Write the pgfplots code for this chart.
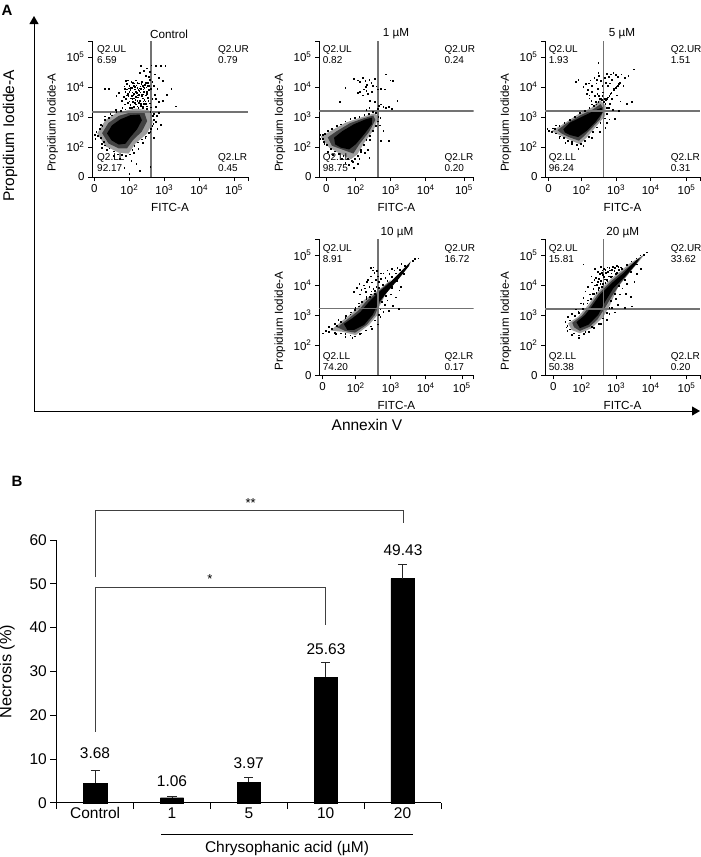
\documentclass[border=0pt]{standalone}
\usepackage{pgfplots}
\pgfplotsset{compat=1.18}
\usepackage{fontspec}
\setmainfont{Liberation Sans}
\usetikzlibrary{arrows.meta}

\newcommand{\fs}[1]{\fontsize{#1}{#1}\selectfont}

\pgfplotsset{
  panel/.style={
    scale only axis, anchor=south west, width=#1,
    height=136pt,
    ymin=1, ymax=5.53, axis x line=bottom, axis y line=left,
    axis line style={-, line width=0.7pt},
    tick style={black, line width=0.6pt},
    tick align=outside, major tick length=4pt,
    ytick={1,2,3,4,5}, yticklabels={0,10\textsuperscript{2},10\textsuperscript{3},10\textsuperscript{4},10\textsuperscript{5}},
    ticklabel style={font=\fs{11.5}},
    extra y ticks={5.53}, extra y tick labels={},
    xlabel={FITC-A}, ylabel={Propidium Iodide-A},
    xlabel style={font=\fs{11.7}, at={(axis description cs:0.5,0)}, anchor=center, yshift=-30pt},
    ylabel style={font=\fs{11.6}, at={(axis description cs:-0.253,0.4)}, anchor=center},
    clip=true,
  },
  halo/.style={draw=none, fill=black!38, forget plot},
  mid/.style={draw=none, fill=black!74, forget plot},
  core/.style={draw=none, fill=black, forget plot},
  dots/.style={only marks, mark=square*, mark size=0.32pt, mark options={draw=none, fill=black!48}, forget plot},
  edge/.style={only marks, mark=square*, mark size=0.36pt, mark options={draw=none, fill=black!62}, forget plot},
  quad/.style={no marks, draw=black!55, line width=1.4pt, forget plot},
}

\begin{document}
\begin{tikzpicture}
\path[use as bounding box] (0,0) rectangle (701pt,-857pt);

% ---- panel A, control
\begin{axis}[panel=156pt, at={(92pt,-177pt)}, xmin=0.93, xmax=5.40,
  xtick={1,2,3,4,5}, xticklabels={0,10\textsuperscript{2},10\textsuperscript{3},10\textsuperscript{4},10\textsuperscript{5}},
  extra x ticks={5.40}, extra x tick labels={}]
\addplot[halo] coordinates {(1.08,2.45)(1.31,2.89)(1.65,3.15)(2.17,3.28)(2.57,3.22)(2.67,2.83)(2.51,2.45)(2.17,2.11)(1.98,1.78)(1.70,1.81)(1.31,2.03)} --cycle;
\addplot[mid] coordinates {(1.22,2.46)(1.40,2.80)(1.70,3.04)(2.10,3.17)(2.43,3.15)(2.51,2.86)(2.36,2.52)(2.10,2.22)(1.93,1.95)(1.70,1.95)(1.40,2.12)} --cycle;
\addplot[core] coordinates {(1.36,2.45)(1.50,2.72)(1.74,2.92)(2.03,3.06)(2.29,3.08)(2.36,2.89)(2.22,2.59)(2.03,2.33)(1.89,2.11)(1.70,2.08)(1.49,2.22)} --cycle;
\addplot[edge] coordinates {(1.05,2.50)(1.10,2.38)(1.15,2.62)(1.22,2.72)(1.18,2.30)(1.26,2.18)(1.30,2.90)(1.40,2.98)(1.50,3.06)(1.62,3.18)(1.75,3.22)(1.88,3.26)(2.00,3.30)(2.12,3.34)(2.25,3.30)(2.38,3.33)(2.50,3.28)(2.60,3.18)(2.66,3.05)(2.70,2.92)(2.68,2.78)(2.62,2.62)(2.55,2.48)(2.46,2.36)(2.36,2.26)(2.24,2.16)(2.14,2.04)(2.08,1.90)(2.00,1.76)(1.90,1.70)(1.78,1.74)(1.66,1.76)(1.55,1.86)(1.42,1.96)(1.30,2.06)(1.20,2.12)};
\addplot[dots] coordinates {(1.85,4.02)(1.92,4.10)(1.98,3.96)(2.05,4.18)(2.12,4.05)(2.18,4.22)(2.22,3.98)(2.27,4.12)(2.31,4.03)(2.36,4.17)(2.40,3.92)(2.44,4.08)(2.48,3.99)(2.53,4.14)(1.88,3.85)(1.95,3.78)(2.02,3.90)(2.08,3.82)(2.15,3.92)(2.21,3.80)(2.28,3.88)(2.34,3.76)(2.41,3.84)(2.47,3.72)(2.55,3.90)(1.83,3.68)(1.90,3.60)(1.97,3.70)(2.04,3.62)(2.11,3.72)(2.17,3.58)(2.24,3.66)(2.30,3.55)(2.38,3.62)(2.45,3.52)(2.52,3.64)(1.95,3.47)(2.02,3.40)(2.10,3.50)(2.18,3.42)(2.26,3.48)(2.33,3.38)(2.42,3.44)(2.50,3.36)(2.58,3.46)(1.70,3.80)(1.62,3.70)(1.78,3.55)
(1.92,3.92)(2.00,4.05)(2.07,3.98)(2.14,4.13)(2.20,4.06)(2.25,3.90)(2.33,3.95)(2.38,4.05)(2.43,3.97)(2.50,3.85)(2.13,3.78)(2.19,3.68)(2.27,3.75)(2.36,3.70)(2.43,3.58)(1.87,3.42)(1.80,3.30)(2.06,3.30)(2.23,3.36)(2.38,3.30)(2.48,3.28)
(1.90,4.20)(1.86,3.94)(1.96,4.22)(2.03,3.97)(2.09,4.14)(2.16,4.00)(2.23,4.14)(2.29,3.96)(2.34,4.10)(2.40,3.99)(2.46,4.14)(2.51,4.04)(1.93,3.72)(2.00,3.84)(2.06,3.70)(2.12,3.62)(2.18,3.85)(2.24,3.73)(2.31,3.82)(2.39,3.76)(2.49,3.78)(2.00,3.52)(2.08,3.60)(2.15,3.48)(2.22,3.54)(2.32,3.44)(2.40,3.52)(2.47,3.44)(2.54,3.54)(2.56,4.05)
(2.33,4.70)(2.30,4.48)(2.42,4.55)(2.50,4.62)(2.58,4.50)(2.63,4.72)(2.75,4.70)(2.90,4.70)(3.03,4.70)(2.72,4.42)(2.85,4.30)(2.95,4.20)(3.20,3.95)(3.07,3.75)(2.70,4.05)(2.80,3.95)(2.72,3.75)(2.65,3.60)(2.75,3.35)(2.85,3.50)(1.30,3.95)(1.40,3.95)(2.95,3.55)(3.33,3.36)(2.62,3.95)(2.58,4.25)(2.66,4.18)(2.56,4.35)(2.46,4.38)(2.76,3.60)(2.62,3.32)
(2.05,1.55)(2.20,1.45)(1.85,1.30)(2.00,1.12)(2.30,1.20)(2.60,1.35)(2.70,2.30)(2.80,2.60)(2.90,2.75)(2.75,2.85)(2.65,2.70)(2.60,2.50)(2.78,3.05)(2.85,3.15)(2.70,3.10)(2.45,2.30)(2.38,2.15)(2.25,1.95)(2.12,1.80)(1.72,1.62)(1.55,1.72)(1.35,1.90)(1.20,1.98)(1.02,2.28)(1.00,2.40)(1.18,2.75)(1.30,3.02)(1.45,3.10)(1.60,3.25)};
\addplot[quad] coordinates {(2.62,1)(2.62,5.53)};
\addplot[quad] coordinates {(0.93,3.16)(5.40,3.16)};
\end{axis}

% ---- panel A, 1 uM
\begin{axis}[panel=154.7pt, at={(319pt,-177pt)}, xmin=0.95, xmax=5.37,
  xtick={1.16,2,3,4,5.09}, xticklabels={0,10\textsuperscript{2},10\textsuperscript{3},10\textsuperscript{4},10\textsuperscript{5}},
  extra x ticks={5.37}, extra x tick labels={}]
\addplot[halo] coordinates {(1.00,2.34)(1.28,2.53)(1.71,2.81)(2.14,2.98)(2.52,3.12)(2.66,3.03)(2.52,2.59)(2.24,2.14)(2.05,1.76)(1.86,1.59)(1.57,1.76)(1.24,1.98)} --cycle;
\addplot[mid] coordinates {(1.20,2.32)(1.46,2.53)(1.83,2.79)(2.21,2.95)(2.50,3.05)(2.56,2.90)(2.38,2.50)(2.12,2.12)(1.93,1.78)(1.72,1.87)(1.32,2.04)} --cycle;
\addplot[core] coordinates {(1.38,2.31)(1.62,2.53)(1.95,2.76)(2.28,2.92)(2.47,2.98)(2.46,2.76)(2.24,2.42)(2.00,2.09)(1.81,1.92)(1.57,1.98)(1.41,2.09)} --cycle;
\addplot[edge] coordinates {(0.98,2.40)(1.06,2.28)(1.12,2.45)(1.20,2.55)(1.32,2.60)(1.45,2.70)(1.58,2.76)(1.70,2.86)(1.84,2.94)(1.98,2.98)(2.10,3.02)(2.24,3.08)(2.36,3.12)(2.48,3.18)(2.58,3.14)(2.64,3.02)(2.62,2.86)(2.58,2.70)(2.48,2.54)(2.40,2.38)(2.30,2.24)(2.22,2.08)(2.14,1.90)(2.06,1.72)(1.98,1.60)(1.88,1.54)(1.76,1.62)(1.64,1.70)(1.52,1.78)(1.40,1.86)(1.28,1.94)(1.16,2.08)(1.08,2.18)};
\addplot[dots] coordinates {(1.95,4.28)(2.05,4.22)(2.12,4.18)(2.20,4.30)(2.27,4.20)(2.32,4.08)(2.28,4.00)(2.38,4.25)(2.44,4.14)(2.48,4.04)(2.55,4.28)(2.30,3.88)(2.22,3.92)(2.12,3.85)(2.05,3.80)(2.20,3.72)(2.35,3.78)(2.45,3.85)(2.58,4.02)(2.62,3.92)(2.72,3.95)(2.82,3.93)(2.98,4.22)(3.05,4.20)(2.86,4.42)(1.70,3.98)(2.40,3.55)(2.55,3.50)(2.72,3.42)(2.78,3.35)(2.85,3.30)(2.95,3.35)(3.02,3.28)(3.18,3.55)(2.62,3.28)(2.66,3.38)(1.55,3.50)(2.30,3.25)(2.38,3.30)
(2.70,2.98)(2.68,2.72)(2.78,2.55)(2.72,2.20)(2.95,2.20)(2.40,2.25)(2.25,1.80)(2.35,1.90)(2.10,1.62)(1.95,1.30)(2.05,1.45)(2.38,1.65)(1.05,2.40)(0.98,2.28)(1.10,2.10)(1.20,1.85)(1.35,1.75)(1.80,1.40)(1.60,1.60)(1.70,1.48)(1.92,1.50)(2.14,1.85)};
\addplot[quad] coordinates {(2.63,1)(2.63,5.53)};
\addplot[quad] coordinates {(0.95,3.20)(5.37,3.20)};
\end{axis}

% ---- panel A, 5 uM
\begin{axis}[panel=155pt, at={(545pt,-177pt)}, xmin=0.94, xmax=5.43,
  xtick={1.04,2,3,4,5.04}, xticklabels={0,10\textsuperscript{2},10\textsuperscript{3},10\textsuperscript{4},10\textsuperscript{5}},
  extra x ticks={5.43}, extra x tick labels={}]
\addplot[halo] coordinates {(1.13,2.53)(1.42,2.73)(1.90,3.09)(2.29,3.31)(2.53,3.56)(2.70,3.37)(2.68,3.03)(2.43,2.70)(2.19,2.37)(1.95,2.09)(1.61,2.26)(1.32,2.42)} --cycle;
\addplot[mid] coordinates {(1.30,2.56)(1.54,2.77)(1.97,3.06)(2.34,3.26)(2.55,3.43)(2.65,3.25)(2.53,2.92)(2.28,2.61)(2.04,2.33)(1.92,2.21)(1.63,2.33)(1.42,2.45)} --cycle;
\addplot[core] coordinates {(1.47,2.59)(1.66,2.81)(2.05,3.03)(2.39,3.22)(2.58,3.31)(2.60,3.14)(2.39,2.81)(2.14,2.53)(1.90,2.33)(1.66,2.40)(1.52,2.48)} --cycle;
\addplot[edge] coordinates {(1.05,2.55)(1.14,2.50)(1.22,2.62)(1.35,2.70)(1.50,2.82)(1.65,2.92)(1.80,3.02)(1.95,3.14)(2.10,3.20)(2.22,3.30)(2.36,3.38)(2.48,3.52)(2.58,3.58)(2.68,3.44)(2.72,3.30)(2.72,3.10)(2.66,2.96)(2.54,2.80)(2.44,2.66)(2.32,2.50)(2.20,2.34)(2.10,2.22)(1.98,2.12)(1.85,2.08)(1.72,2.18)(1.60,2.22)(1.48,2.30)(1.36,2.36)(1.24,2.46)
(2.65,3.50)(2.70,3.58)(2.75,3.66)(2.80,3.72)(2.86,3.82)(2.92,3.90)(2.98,3.98)(3.04,4.05)(3.10,4.14)(3.08,4.10)(3.01,4.02)(2.94,3.94)(2.83,3.78)(2.72,3.62)};
\addplot[dots] coordinates {(2.66,3.60)(2.60,3.70)(2.62,3.82)(2.56,3.62)
(2.05,4.00)(2.12,4.10)(2.18,3.90)(2.25,4.22)(2.30,4.05)(2.36,4.30)(2.42,4.12)(2.46,3.95)(2.50,4.38)(2.55,4.20)(2.60,4.05)(2.66,4.30)(2.72,4.45)(2.78,4.35)(2.84,4.42)(2.88,4.25)(2.92,4.48)(2.14,3.78)(2.22,3.72)(2.30,3.85)(2.38,3.70)(2.45,3.78)(2.52,3.60)(2.28,3.55)(2.40,3.50)(2.22,3.62)(2.70,4.15)(2.76,4.05)(2.82,4.12)(2.48,4.48)(2.44,4.25)(2.20,4.12)(1.82,4.18)(1.90,4.25)
(2.48,4.81)(3.50,4.59)(3.35,4.37)(3.15,4.42)(3.25,4.30)(3.05,4.35)(2.98,4.40)(3.20,4.05)(3.02,3.72)(3.30,3.45)(3.12,3.52)(2.88,3.60)(2.82,3.45)(2.78,3.30)(2.90,3.25)(3.45,3.50)(2.95,2.95)(2.80,2.92)(2.72,2.80)(2.68,2.65)(3.08,3.20)
(1.05,2.55)(1.00,2.60)(1.16,2.62)(1.25,2.72)(1.35,2.30)(1.52,2.14)(1.72,2.10)(1.90,1.95)(2.05,2.05)(2.30,2.30)(2.52,2.50)(2.50,3.70)(2.42,3.42)(2.30,3.42)};
\addplot[quad] coordinates {(2.63,1)(2.63,5.53)};
\addplot[quad] coordinates {(0.94,3.20)(5.43,3.20)};
\end{axis}

% ---- panel A, 10 uM
\begin{axis}[panel=154.7pt, at={(319pt,-375.3pt)}, xmin=0.95, xmax=5.37,
  xtick={1.05,2,3,4,5.03}, xticklabels={0,10\textsuperscript{2},10\textsuperscript{3},10\textsuperscript{4},10\textsuperscript{5}},
  extra x ticks={5.37}, extra x tick labels={}]
\addplot[halo] coordinates {(1.28,2.49)(1.62,2.82)(2.00,3.18)(2.24,3.51)(2.65,3.84)(3.00,4.18)(2.90,3.80)(2.67,3.29)(2.62,3.01)(2.38,2.68)(2.00,2.34)(1.62,2.45)} --cycle;
\addplot[mid] coordinates {(1.47,2.60)(1.76,2.86)(2.07,3.15)(2.31,3.48)(2.63,3.78)(2.95,4.10)(2.93,3.88)(2.67,3.37)(2.55,3.01)(2.31,2.68)(1.98,2.42)(1.69,2.48)} --cycle;
\addplot[core] coordinates {(1.66,2.71)(1.90,2.90)(2.14,3.12)(2.38,3.45)(2.62,3.73)(2.90,4.01)(3.24,4.40)(3.52,4.73)(3.57,4.79)(3.52,4.64)(3.24,4.23)(2.95,3.84)(2.67,3.45)(2.48,3.01)(2.24,2.68)(1.95,2.51)(1.76,2.51)} --cycle;
\addplot[edge] coordinates {(1.22,2.45)(1.32,2.56)(1.45,2.66)(1.58,2.78)(1.70,2.92)(1.84,3.04)(1.96,3.18)(2.08,3.30)(2.18,3.46)(2.30,3.62)(2.42,3.70)(2.54,3.82)(2.66,3.92)(2.78,4.02)(2.90,4.14)(3.02,4.28)(3.14,4.40)(3.26,4.52)(3.40,4.66)(3.36,4.38)(3.16,4.14)(3.02,3.92)(2.86,3.66)(2.74,3.44)(2.70,3.20)(2.66,3.02)(2.54,2.84)(2.42,2.64)(2.28,2.50)(2.12,2.38)(1.98,2.30)(1.84,2.34)(1.70,2.38)(1.56,2.40)(1.40,2.42)};
\addplot[dots] coordinates {(1.95,3.78)(2.02,3.92)(2.10,4.05)(2.16,3.85)(2.22,4.00)(2.28,3.78)(2.32,4.12)(2.38,3.95)(2.42,4.30)(2.46,4.10)(2.50,3.88)(2.53,4.42)(2.57,4.18)(2.62,4.30)(2.66,4.12)(2.72,4.22)(2.78,4.40)(2.84,4.25)(2.90,4.50)(2.96,4.38)(3.02,4.55)(3.10,4.50)(2.48,4.50)(2.35,4.18)(2.25,3.90)(2.12,3.70)(2.55,3.72)(2.40,3.62)(2.30,3.55)(2.08,3.40)(1.98,3.25)(2.72,4.40)(2.60,4.48)(2.42,4.58)(2.50,4.60)(2.58,3.95)(2.44,3.80)(3.30,4.72)(3.18,4.58)
(3.24,3.84)(3.00,3.70)(2.90,3.50)(3.05,3.32)(3.22,3.22)(2.95,3.15)(2.78,3.12)(2.82,3.35)(3.15,3.60)(3.02,3.95)(3.28,3.95)(2.70,2.95)(2.62,2.70)(2.45,2.55)
(1.05,2.40)(1.15,2.48)(1.22,2.62)(1.40,2.72)(1.50,2.85)(1.72,2.98)(1.85,3.10)(1.42,2.38)(1.70,2.28)(1.90,2.25)(2.15,2.40)(3.68,4.88)(3.78,4.90)(3.62,4.82)};
\addplot[quad] coordinates {(2.63,1)(2.63,5.53)};
\addplot[quad] coordinates {(0.95,3.23)(5.37,3.23)};
\end{axis}

% ---- panel A, 20 uM
\begin{axis}[panel=155pt, at={(545pt,-375.3pt)}, xmin=0.94, xmax=5.43,
  xtick={1.18,2,3,4,5.04}, xticklabels={0,10\textsuperscript{2},10\textsuperscript{3},10\textsuperscript{4},10\textsuperscript{5}},
  extra x ticks={5.43}, extra x tick labels={}]
\addplot[halo] coordinates {(1.61,2.73)(1.90,2.95)(2.19,3.34)(2.43,3.73)(2.87,4.23)(3.40,4.73)(3.83,5.03)(3.50,4.57)(3.06,3.95)(2.82,3.34)(2.63,2.95)(2.29,2.57)(1.95,2.40)(1.71,2.51)} --cycle;
\addplot[mid] coordinates {(1.73,2.75)(2.00,2.98)(2.24,3.31)(2.48,3.70)(2.87,4.15)(3.30,4.56)(3.76,4.98)(3.53,4.63)(3.16,4.12)(2.87,3.62)(2.65,3.20)(2.46,2.86)(2.24,2.62)(1.95,2.48)(1.78,2.60)} --cycle;
\addplot[core] coordinates {(1.85,2.77)(2.10,3.01)(2.29,3.29)(2.53,3.68)(2.87,4.07)(3.21,4.40)(3.54,4.79)(3.69,4.92)(3.57,4.70)(3.26,4.29)(2.92,3.90)(2.68,3.45)(2.48,3.01)(2.19,2.68)(1.95,2.57)} --cycle;
\addplot[edge] coordinates {(1.58,2.66)(1.66,2.84)(1.80,2.98)(1.92,3.08)(2.04,3.22)(2.16,3.40)(2.26,3.56)(2.36,3.72)(2.50,3.92)(2.62,4.04)(2.74,4.16)(2.88,4.30)(3.02,4.42)(3.16,4.56)(3.30,4.68)(3.44,4.80)(3.58,4.90)(3.70,5.00)(3.60,4.70)(3.42,4.44)(3.24,4.18)(3.08,3.98)(2.96,3.72)(2.84,3.48)(2.80,3.26)(2.72,3.08)(2.62,2.90)(2.50,2.72)(2.36,2.58)(2.20,2.46)(2.06,2.38)(1.92,2.34)(1.78,2.40)(1.66,2.54)};
\addplot[dots] coordinates {(2.10,3.80)(2.18,3.95)(2.24,3.70)(2.30,4.10)(2.34,3.88)(2.40,4.25)(2.44,4.02)(2.48,3.85)(2.52,4.38)(2.55,4.15)(2.58,3.95)(2.60,4.50)(2.64,4.28)(2.68,4.08)(2.70,4.42)(2.74,4.60)(2.78,4.30)(2.82,4.50)(2.86,4.40)(2.90,4.62)(2.94,4.48)(2.98,4.38)(3.02,4.66)(3.08,4.52)(3.14,4.60)(2.46,4.45)(2.38,4.00)(2.32,3.72)(2.26,3.55)(2.18,3.50)(2.56,4.62)(2.62,4.36)(2.72,4.18)(2.50,4.22)(2.42,3.75)(2.64,4.56)(2.76,4.45)(2.84,4.28)(2.88,4.52)(2.96,4.58)(3.06,4.62)(2.66,4.20)(2.54,4.05)(2.46,4.12)(2.36,4.18)(2.05,3.58)(1.98,3.40)(2.28,4.30)(2.38,4.55)(2.05,4.70)(2.80,4.58)(2.58,4.42)(2.68,4.52)
(3.30,4.05)(3.18,3.90)(3.10,3.70)(2.98,3.55)(3.05,3.35)(3.25,3.25)(3.45,3.30)(2.88,3.25)(2.80,3.05)(2.72,2.85)(2.96,3.10)(3.42,3.62)(3.28,3.72)(3.52,4.12)(3.60,4.38)(3.72,4.55)
(1.52,2.78)(1.60,2.95)(1.72,3.05)(1.82,3.20)(1.58,2.48)(1.72,2.35)(1.92,2.25)(2.10,2.45)(2.30,2.62)(2.55,2.72)(1.90,3.12)(2.05,3.38)(1.55,2.60)(3.88,5.10)(3.80,5.02)};
\addplot[quad] coordinates {(2.64,1)(2.64,5.53)};
\addplot[quad] coordinates {(0.94,3.21)(5.43,3.21)};
\end{axis}

% ---- panel B
\begin{axis}[scale only axis, anchor=south west, at={(56.7pt,-802.7pt)}, width=384.3pt, height=262.7pt,
  xmin=0, xmax=5, ymin=0, ymax=60, axis x line=bottom, axis y line=left,
  axis line style={-, line width=0.7pt}, tick style={black, line width=0.7pt},
  tick align=outside, major tick length=6.3pt,
  /pgf/number format/assume math mode=true,
  ytick={0,10,...,60}, xtick={0,1,2,3,4,5}, xticklabels={},
  ticklabel style={font=\fs{15.5}},
  extra x ticks={0.5,1.5,2.5,3.5,4.5}, extra x tick labels={Control,1,5,10,20},
  extra x tick style={major tick length=0pt, tick label style={yshift=-1.5pt}},
  ylabel={Necrosis (\%)},
  ylabel style={font=\fs{16.3}, at={(axis description cs:-0.129,0.5)}, anchor=center},
  clip=false]
\addplot[ybar, bar width=23.3pt, bar shift=0pt, fill=black, draw=black,
  error bars/.cd, y dir=plus, y explicit,
  error bar style={line width=0.8pt, black!85},
  error mark options={rotate=90, mark size=4.6pt, line width=0.8pt, black!85}]
  coordinates {(0.5,4.4) +- (0,2.9) (1.5,1.14) +- (0,0.26) (2.5,4.65) +- (0,1.2) (3.5,28.6) +- (0,3.5) (4.5,51.2) +- (0,3.3)};
\end{axis}

% ---- frame, labels, annotations in image pixels
\begin{scope}[x=1pt,y=-1pt]
\draw[line width=0.9pt, -{Triangle[width=9pt,length=8pt]}] (34,411) -- (34,16);
\draw[line width=0.9pt, -{Triangle[width=9pt,length=8pt]}] (34,411) -- (700,411);
\node[font=\bfseries\fs{15}] at (7,10) {A};
\node[font=\bfseries\fs{15}] at (17,481) {B};
\node[font=\fs{15.5},rotate=90] at (10,136) {Propidium Iodide-A};
\node[font=\fs{15.5}] at (367,424.5) {Annexin V};

\node[font=\fs{11.7}] at (169,34) {Control};
\node[font=\fs{11.7}] at (396,34) {1 µM};
\node[font=\fs{11.7}] at (622,34) {5 µM};
\node[font=\fs{11.7}] at (397,232.7) {10 µM};
\node[font=\fs{11.7}] at (622.7,232.7) {20 µM};

\foreach \xa/\xb/\ya/\yb/\ul/\ur/\ll/\lr in {
  97/218/45/153.5/6.59/0.79/92.17/0.45,
  322.7/444.3/45/153.5/0.82/0.24/98.75/0.20,
  548.7/670.7/45/153.5/1.93/1.51/96.24/0.31,
  322.7/444.3/244/352.5/8.91/16.72/74.20/0.17,
  548.7/670.7/244/352.5/15.81/33.62/50.38/0.20}{
  \node[font=\fs{10},anchor=north west,inner sep=0pt,align=left] at (\xa,\ya) {Q2.UL\\[1pt]\ul};
  \node[font=\fs{10},anchor=north west,inner sep=0pt,align=left] at (\xb,\ya) {Q2.UR\\[1pt]\ur};
  \node[font=\fs{10},anchor=north west,inner sep=0pt,align=left] at (\xa,\yb) {Q2.LL\\[1pt]\ll};
  \node[font=\fs{10},anchor=north west,inner sep=0pt,align=left] at (\xb,\yb) {Q2.LR\\[1pt]\lr};
}

\node[font=\fs{15.5}] at (95,753) {3.68};
\node[font=\fs{15.5}] at (172,781) {1.06};
\node[font=\fs{15.5}] at (248.7,763) {3.97};
\node[font=\fs{15.5}] at (326,649) {25.63};
\node[font=\fs{15.5}] at (403,550.5) {49.43};

\draw[black!75, line width=0.8pt] (95,577) -- (95,510.3) -- (403,510.3) -- (403,522.7);
\draw[black!75, line width=0.8pt] (95,731.7) -- (95,587) -- (325,587) -- (325,625);
\node[font=\fs{13}] at (250.7,503) {**};
\node[font=\fs{13}] at (210,579.5) {*};

\draw[black, line width=0.7pt] (161,834.3) -- (413,834.3);
\node[font=\fs{15.5}] at (287,848) {Chrysophanic acid (µM)};
\end{scope}
\end{tikzpicture}
\end{document}
